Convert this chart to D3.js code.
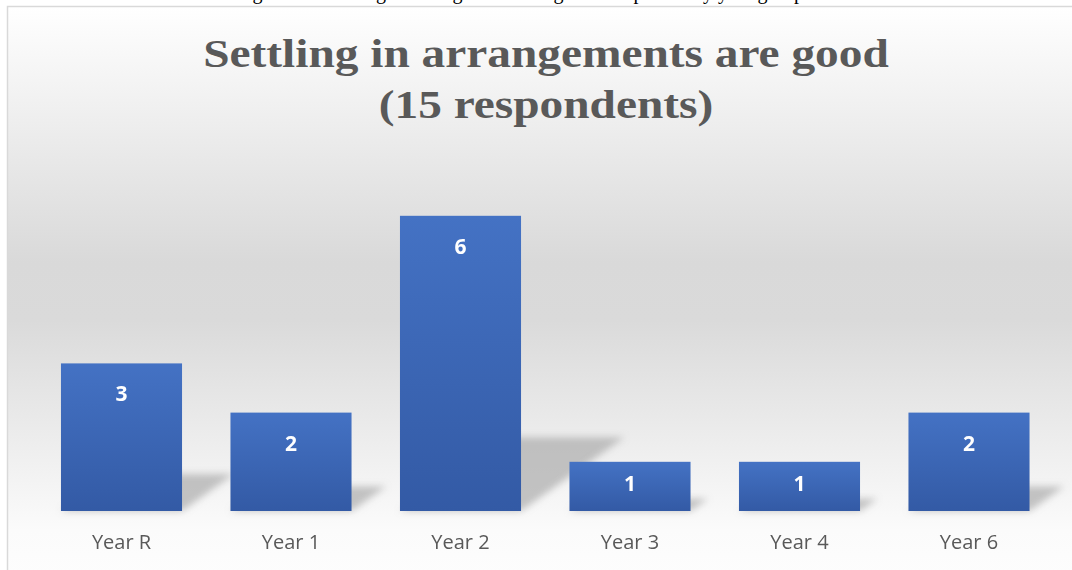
<!DOCTYPE html>
<html>
<head>
<meta charset="utf-8">
<script src="https://cdn.jsdelivr.net/npm/d3@7"></script>
<style>
  body { margin: 0; background: #fff; }
  svg { display: block; }
</style>
</head>
<body>
<svg id="chart" width="1072" height="570"></svg>
<script>
// chart data
let categories = ["Year R", "Year 1", "Year 2", "Year 3", "Year 4", "Year 6"];
let counts = [3, 2, 6, 1, 1, 2];
let titleLines = ["Settling in arrangements are good", "(15 respondents)"];
let yDomain = [0, 7];

let W = 1072, H = 570;
let plot = {left: 36.75, right: 1053.75, top: 166.6, bottom: 511};

let svg = d3.select("#chart");
let defs = svg.append("defs");

// chart area background: white -> grey -> white
let bg = defs.append("linearGradient").attr("id", "bg")
    .attr("x1", 0).attr("y1", 0).attr("x2", 0).attr("y2", 1);
bg.append("stop").attr("offset", "0").attr("stop-color", "#ffffff");
bg.append("stop").attr("offset", "0.45").attr("stop-color", "#d9d9d9");
bg.append("stop").attr("offset", "0.55").attr("stop-color", "#dadada");
bg.append("stop").attr("offset", "0.92").attr("stop-color", "#fbfbfb");
bg.append("stop").attr("offset", "1").attr("stop-color", "#fdfdfd");

let barGrad = defs.append("linearGradient").attr("id", "barGrad")
    .attr("x1", 0).attr("y1", 0).attr("x2", 0).attr("y2", 1);
barGrad.append("stop").attr("offset", "0").attr("stop-color", "#4472c4");
barGrad.append("stop").attr("offset", "1").attr("stop-color", "#335aa5");

defs.append("filter").attr("id", "blur")
    .attr("x", "-30%").attr("y", "-30%").attr("width", "160%").attr("height", "160%")
    .append("feGaussianBlur").attr("stdDeviation", 3.5);

// page caption above the chart (mostly cut off, as in the document)
svg.append("text")
    .attr("x", 520).attr("y", -1)
    .attr("text-anchor", "middle")
    .attr("font-family", "Liberation Serif")
    .attr("font-size", 20)
    .attr("fill", "#000")
    .text("Figure 12: Settling in arrangements are good - responses by year group");

svg.append("rect")
    .attr("x", 7.5).attr("y", 6.5)
    .attr("width", W).attr("height", H)
    .attr("fill", "url(#bg)")
    .attr("stroke", "#d9d9d9").attr("stroke-width", 1.5);

let x = d3.scaleBand().domain(categories)
    .range([plot.left, plot.right])
    .paddingInner(0.4 / 1.4).paddingOuter(0.2 / 1.4);
let y = d3.scaleLinear().domain(yDomain).range([plot.bottom, plot.top]);

// perspective shadows behind bars
let shadowG = svg.append("g").attr("filter", "url(#blur)");
shadowG.selectAll("polygon")
    .data(counts)
    .join("polygon")
    .attr("points", (d, i) => {
        let x0 = x(categories[i]), x1 = x0 + x.bandwidth();
        let h = y(0) - y(d);
        let dx = h * 0.35, ty = y(0) - h * 0.25;
        return [[x0 + dx, ty], [x1 + dx, ty], [x1, y(0)], [x0, y(0)]].join(" ");
    })
    .attr("fill", "#a6a6a6")
    .attr("opacity", 0.65);

svg.append("g").selectAll("rect")
    .data(counts)
    .join("rect")
    .attr("x", (d, i) => x(categories[i]))
    .attr("y", d => y(d))
    .attr("width", x.bandwidth())
    .attr("height", d => y(0) - y(d))
    .attr("fill", "url(#barGrad)");

svg.append("g").selectAll("text")
    .data(counts)
    .join("text")
    .attr("x", (d, i) => x(categories[i]) + x.bandwidth() / 2)
    .attr("y", d => y(d) + Math.min(38, (y(0) - y(d)) / 2 + 5))
    .attr("text-anchor", "middle")
    .attr("font-family", "Open Sans")
    .attr("font-weight", "bold")
    .attr("font-size", 21)
    .attr("fill", "#ffffff")
    .text(d => d);

// category axis (no line, labels only)
let xAxis = svg.append("g")
    .attr("transform", `translate(0,${plot.bottom})`)
    .call(d3.axisBottom(x).tickSize(0).tickPadding(24));
xAxis.select(".domain").remove();
xAxis.selectAll("text")
    .attr("font-family", "Open Sans")
    .attr("font-size", 20)
    .attr("fill", "#595959");

// title: Times bold stretched a little to match the Garamond width
let title = svg.append("g");
titleLines.forEach((t, i) => {
    title.append("text")
        .attr("transform", `translate(546,${67 + i * 51}) scale(1.155,1)`)
        .attr("text-anchor", "middle")
        .attr("font-family", "Liberation Serif")
        .attr("font-weight", "bold")
        .attr("font-size", 41)
        .attr("fill", "#595959")
        .text(t);
});
</script>
</body>
</html>
